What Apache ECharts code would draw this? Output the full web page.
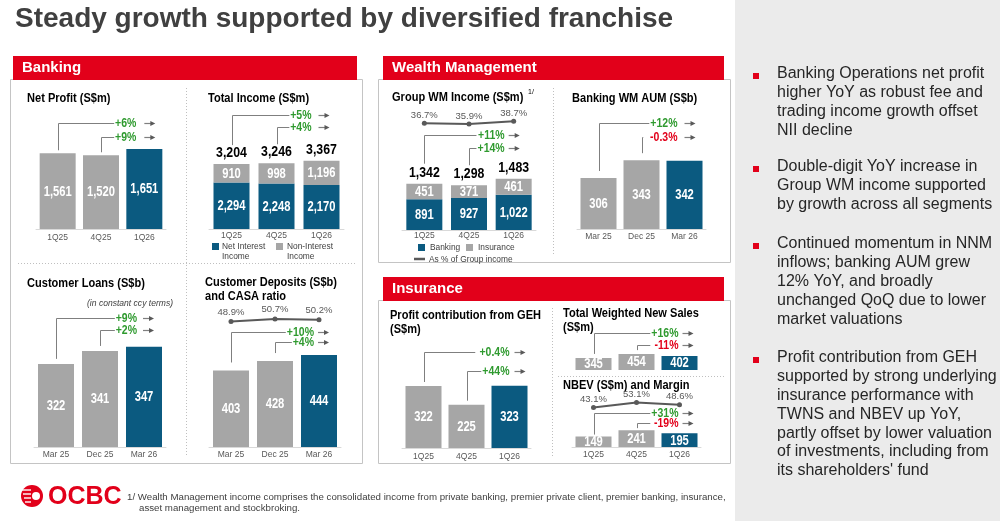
<!DOCTYPE html>
<html>
<head>
<meta charset="UTF-8">
<title>Steady growth supported by diversified franchise</title>
<script src="https://cdn.jsdelivr.net/npm/echarts@6/dist/echarts.min.js"></script>
<style>
  html, body { margin: 0; padding: 0; background: #fff; }
  #main { width: 1000px; height: 521px; }
</style>
</head>
<body>
<div id="main"></div>
<script>
// ---- data ----
var qCats = ['1Q25', '4Q25', '1Q26'];
var mCats = ['Mar 25', 'Dec 25', 'Mar 26'];

var netProfit = [1561, 1520, 1651];
var npGrowth = ['+6%', '+9%'];

var nii = [2294, 2248, 2170];
var nonNii = [910, 998, 1196];
var totalIncome = [3204, 3246, 3367];
var tiGrowth = ['+5%', '+4%'];

var loans = [322, 341, 347];
var loanGrowth = ['+9%', '+2%'];

var deposits = [403, 428, 444];
var casaRatio = [48.9, 50.7, 50.2];
var depGrowth = ['+10%', '+4%'];

var wmBanking = [891, 927, 1022];
var wmInsurance = [451, 371, 461];
var wmTotal = [1342, 1298, 1483];
var wmShare = [36.7, 35.9, 38.7];
var wmGrowth = ['+11%', '+14%'];

var wmAum = [306, 343, 342];
var aumGrowth = ['+12%', '-0.3%'];

var gehProfit = [322, 225, 323];
var gehGrowth = ['+0.4%', '+44%'];

var twns = [345, 454, 402];
var twnsGrowth = ['+16%', '-11%'];

var nbev = [149, 241, 195];
var nbevMargin = [43.1, 53.1, 48.6];
var nbevGrowth = ['+31%', '-19%'];

var bullets = [
  ['Banking Operations net profit', 'higher YoY as robust fee and', 'trading income growth offset', 'NII decline'],
  ['Double-digit YoY increase in', 'Group WM income supported', 'by growth across all segments'],
  ['Continued momentum in NNM', 'inflows; banking AUM grew', '12% YoY, and broadly', 'unchanged QoQ due to lower', 'market valuations'],
  ['Profit contribution from GEH', 'supported by strong underlying', 'insurance performance with', 'TWNS and NBEV up YoY,', 'partly offset by lower valuation', 'of investments, including from', 'its shareholders\' fund']
];

// ---- style ----
var RED = '#e2001a', BLUE = '#0b5a80', GREY = '#a6a6a6', GREEN = '#2f9a2f';
var LINE = '#7f7f7f', AXIS = '#595959', TXT = '#262626';
var SANS = "'Liberation Sans', Arial, sans-serif";

function fmt(v) { return Number(v).toLocaleString('en-US'); }

var chart = echarts.init(document.getElementById('main'));

var grids = [], xAxes = [], yAxes = [], series = [];
var labelSpecs = [], totalSpecs = [];

function addGrid(rect, cats, yMin, yMax, labelMargin) {
  var i = grids.length;
  grids.push({ left: rect[0], top: rect[1], width: rect[2], height: rect[3] });
  xAxes.push({
    gridIndex: i, type: 'category', data: cats,
    show: labelMargin !== null,
    axisTick: { show: false },
    axisLine: { lineStyle: { color: '#d9d9d9' } },
    axisLabel: { color: AXIS, fontSize: 8.5, margin: labelMargin || 0, fontFamily: SANS }
  });
  yAxes.push({ gridIndex: i, type: 'value', min: yMin, max: yMax, show: false, splitLine: { show: false } });
  return i;
}

function bars(g, values, colors, stack, base) {
  series.push({
    type: 'bar', xAxisIndex: g, yAxisIndex: g, barWidth: 36, stack: stack,
    data: values.map(function (v, k) { return { value: v, itemStyle: { color: colors[k] } }; }),
    silent: true
  });
  labelSpecs.push({ g: g, values: values, base: base, min: yAxes[g].min });
}

function totals(g, values) {
  totalSpecs.push({ g: g, values: values });
}

function ratioLine(g, values, dist) {
  series.push({
    type: 'line', xAxisIndex: g, yAxisIndex: g, data: values, silent: true,
    symbol: 'circle', symbolSize: 5,
    lineStyle: { color: '#595959', width: 2 }, itemStyle: { color: '#595959' },
    label: { show: true, position: 'top', distance: dist, color: AXIS, fontSize: 9.5, fontFamily: SANS,
      formatter: function (p) { return p.value.toFixed(1) + '%'; } }
  });
}

var tri = [GREY, GREY, BLUE];

// Banking
var gNP = addGrid([36, 132, 130, 97], qCats, 0, 2000, 4);
bars(gNP, netProfit, tri);

var gTI = addGrid([209, 148, 135, 81], qCats, 0, 4000, 2);
bars(gTI, nii, [BLUE, BLUE, BLUE], 'ti');
bars(gTI, nonNii, [GREY, GREY, GREY], 'ti', nii);
totals(gTI, totalIncome);

var gLoan = addGrid([34, 338, 132, 109], mCats, 200, 360, 3);
bars(gLoan, loans, tri);

var gDep = addGrid([209, 349, 132, 98], mCats, 200, 460, 3);
bars(gDep, deposits, tri);
var gCasa = addGrid([209, 316, 132, 8], mCats, 47, 53, null);
ratioLine(gCasa, casaRatio, 2);

// Wealth Management
var gWM = addGrid([402, 161, 134, 69], qCats, 0, 2000, 1);
bars(gWM, wmBanking, [BLUE, BLUE, BLUE], 'wm');
bars(gWM, wmInsurance, [GREY, GREY, GREY], 'wm', wmBanking);
totals(gWM, wmTotal);
var gShare = addGrid([402, 120, 134, 6], qCats, 34, 40, null);
ratioLine(gShare, wmShare, 0);

var gAum = addGrid([577, 152, 129, 77], mCats, 200, 360, 3);
bars(gAum, wmAum, tri);

// Insurance
var gGeh = addGrid([402, 371, 129, 77], qCats, 0, 400, 4);
bars(gGeh, gehProfit, tri);

var gTwns = addGrid([572, 349, 129, 21], qCats, 0, 600, null);
bars(gTwns, twns, tri);

var gNbev = addGrid([572, 426, 129, 21], qCats, 0, 300, 3);
bars(gNbev, nbev, tri);
var gMargin = addGrid([572, 401, 129, 8], qCats, 40, 56, null);
ratioLine(gMargin, nbevMargin, 1);

chart.setOption({
  animation: false,
  grid: grids, xAxis: xAxes, yAxis: yAxes, series: series
});

// ---- static page elements ----
function txt(x, y, s, font, fill, sx, extra) {
  var o = { type: 'text', x: x, y: y, silent: true, scaleX: sx || 1,
    style: { text: s, font: font, fill: fill || TXT, verticalAlign: 'middle', align: 'left' } };
  if (extra) for (var k in extra) o.style[k] = extra[k];
  return o;
}
function rect(x, y, w, h, style) {
  return { type: 'rect', silent: true, shape: { x: x, y: y, width: w, height: h }, style: style };
}
function dotted(x1, y1, x2, y2) {
  return { type: 'line', silent: true, shape: { x1: x1, y1: y1, x2: x2, y2: y2 },
    style: { stroke: '#bfbfbf', lineWidth: 1, lineDash: [1, 2] } };
}

var els = [];
els.push(rect(735, 0, 265, 521, { fill: '#ebebeb' }));
els.push(txt(15, 19, 'Steady growth supported by diversified franchise', 'bold 28px ' + SANS, '#404040'));

// panels
var HF = 'bold 15px ' + SANS;
els.push(rect(10.5, 79.5, 352, 384, { fill: null, stroke: '#c4c4c4', lineWidth: 1 }));
els.push(rect(13, 56, 344, 24, { fill: RED }));
els.push(txt(22, 68, 'Banking', HF, '#fff'));
els.push(dotted(186.5, 88, 186.5, 456));
els.push(dotted(18, 263.5, 356, 263.5));

els.push(rect(378.5, 79.5, 352, 183, { fill: null, stroke: '#c4c4c4', lineWidth: 1 }));
els.push(rect(383, 56, 341, 24, { fill: RED }));
els.push(txt(392, 68, 'Wealth Management', HF, '#fff'));
els.push(dotted(553.5, 88, 553.5, 256));

els.push(rect(378.5, 300.5, 352, 163, { fill: null, stroke: '#c4c4c4', lineWidth: 1 }));
els.push(rect(383, 277, 341, 24, { fill: RED }));
els.push(txt(392, 289, 'Insurance', HF, '#fff'));
els.push(dotted(552.5, 308, 552.5, 458));
els.push(dotted(558, 376.5, 726, 376.5));

// chart titles (narrow)
var TF = 'bold 13px ' + SANS, TS = 0.85;
els.push(txt(27, 98, 'Net Profit (S$m)', TF, '#000', TS));
els.push(txt(208, 98, 'Total Income (S$m)', TF, '#000', TS));
els.push(txt(27, 283, 'Customer Loans (S$b)', TF, '#000', TS));
els.push(txt(173, 303, '(in constant ccy terms)', 'italic 9.5px ' + SANS, '#404040', 0.9, { align: 'right' }));
els.push(txt(205, 282, 'Customer Deposits (S$b)', TF, '#000', TS));
els.push(txt(205, 296, 'and CASA ratio', TF, '#000', TS));
els.push(txt(392, 97, 'Group WM Income (S$m)', TF, '#000', TS));
els.push(txt(528, 92, '1/', '7px ' + SANS, '#000'));
els.push(txt(572, 98, 'Banking WM AUM (S$b)', TF, '#000', TS));
els.push(txt(390, 315, 'Profit contribution from GEH', TF, '#000', TS));
els.push(txt(390, 329, '(S$m)', TF, '#000', TS));
els.push(txt(563, 313, 'Total Weighted New Sales', TF, '#000', TS));
els.push(txt(563, 327, '(S$m)', TF, '#000', TS));
els.push(txt(563, 385, 'NBEV (S$m) and Margin', TF, '#000', TS));

// legends
var LF = '9.5px ' + SANS, LS = 0.88;
els.push(rect(212, 243, 7, 7, { fill: BLUE }));
els.push(txt(222, 246, 'Net Interest', LF, '#404040', LS));
els.push(txt(222, 256, 'Income', LF, '#404040', LS));
els.push(rect(276, 243, 7, 7, { fill: GREY }));
els.push(txt(287, 246, 'Non-Interest', LF, '#404040', LS));
els.push(txt(287, 256, 'Income', LF, '#404040', LS));

els.push(rect(418, 244, 7, 7, { fill: BLUE }));
els.push(txt(430, 247, 'Banking', LF, '#404040', LS));
els.push(rect(466, 244, 7, 7, { fill: GREY }));
els.push(txt(478, 247, 'Insurance', LF, '#404040', LS));
els.push({ type: 'line', silent: true, shape: { x1: 414, y1: 259, x2: 425, y2: 259 }, style: { stroke: '#595959', lineWidth: 2.5 } });
els.push(txt(429, 259, 'As % of Group income', LF, '#404040', LS));

// bullets
var bulletTops = [74, 167, 244, 358];
bullets.forEach(function (lines, i) {
  els.push(rect(753, bulletTops[i] - 1, 6, 6, { fill: RED }));
  els.push({ type: 'text', x: 777, y: bulletTops[i] - 9.5, silent: true,
    style: { text: lines.join('\n'), font: '16px ' + SANS, fill: TXT, lineHeight: 18.8, verticalAlign: 'top' } });
});

// footer logo + note
els.push({ type: 'circle', silent: true, shape: { cx: 32, cy: 496, r: 11 }, style: { fill: RED } });
[490, 494, 498, 502].forEach(function (y, k) {
  els.push({ type: 'line', silent: true, shape: { x1: 22 + k, y1: y, x2: 31, y2: y }, style: { stroke: '#fff', lineWidth: 1.4 } });
});
els.push({ type: 'circle', silent: true, shape: { cx: 36, cy: 496, r: 4 }, style: { fill: '#fff' } });
els.push(txt(48, 497, 'OCBC', 'bold 25px ' + SANS, RED));
els.push(txt(127, 497, '1/ Wealth Management income comprises the consolidated income from private banking, premier private client, premier banking, insurance,', '9.7px ' + SANS, '#404040'));
els.push(txt(139, 508, 'asset management and stockbroking.', '9.7px ' + SANS, '#404040'));

// ---- value labels placed through the chart's own scales ----
labelSpecs.forEach(function (s) {
  s.values.forEach(function (v, k) {
    var lo = s.base ? s.base[k] : s.min;
    var hi = s.base ? s.base[k] + v : v;
    var p = chart.convertToPixel({ gridIndex: s.g }, [k, (lo + hi) / 2]);
    var t = txt(p[0], p[1] + 0.5, fmt(v), 'bold 14px ' + SANS, '#fff', 0.8, { align: 'center' });
    t.z = 100;
    els.push(t);
  });
});
totalSpecs.forEach(function (s) {
  s.values.forEach(function (v, k) {
    var p = chart.convertToPixel({ gridIndex: s.g }, [k, v]);
    var t = txt(p[0], p[1] - 11, fmt(v), 'bold 14px ' + SANS, '#000', 0.88, { align: 'center' });
    t.z = 100;
    els.push(t);
  });
});

// ---- growth brackets ----
var brackets = [
  { g: gNP, tops: netProfit, levels: [123, 137], gap: 3, tx: -8, ax: 0, labels: npGrowth },
  { g: gTI, tops: totalIncome, levels: [115, 127], gap: 19, tx: -10, ax: -3, labels: tiGrowth },
  { g: gLoan, tops: loans, levels: [318, 330], gap: 5, tx: -7, ax: -1, labels: loanGrowth },
  { g: gDep, tops: deposits, levels: [332, 342], gap: 8, tx: -5, ax: -1, labels: depGrowth },
  { g: gWM, tops: wmTotal, levels: [135, 148], gap: 20, tx: -9, ax: -5, labels: wmGrowth },
  { g: gAum, tops: wmAum, levels: [123, 137], gap: 7, tx: -7, ax: 0, labels: aumGrowth },
  { g: gGeh, tops: gehProfit, levels: [352, 371], gap: 4, tx: 0, ax: 5, labels: gehGrowth },
  { g: gTwns, tops: twns, levels: [333, 345], gap: 4, tx: -1, ax: 3, labels: twnsGrowth },
  { g: gNbev, tops: nbev, levels: [413, 423], gap: 2, tx: -1, ax: 3, labels: nbevGrowth }
];
brackets.forEach(function (b) {
  var c3 = chart.convertToPixel({ gridIndex: b.g }, [2, 0])[0];
  [0, 1].forEach(function (k) {
    var p = chart.convertToPixel({ gridIndex: b.g }, [k, b.tops[k]]);
    var y = b.levels[k];
    var tr = c3 + b.tx;
    var s = b.labels[k];
    var w = s.length * 7.2 * 0.84;
    els.push({ type: 'polyline', silent: true, z: 100,
      shape: { points: [[Math.round(p[0]) + 0.5, p[1] - b.gap], [Math.round(p[0]) + 0.5, y + 0.5], [tr - w - 4, y + 0.5]] },
      style: { stroke: LINE, lineWidth: 1, fill: null } });
    els.push({ type: 'text', silent: true, z: 101, x: tr, y: y + 0.5, scaleX: 0.84,
      style: { text: s, font: 'bold 12.5px ' + SANS, fill: s.charAt(0) === '-' ? RED : GREEN,
        align: 'right', verticalAlign: 'middle' } });
    var a = c3 + b.ax;
    els.push({ type: 'line', silent: true, z: 100, shape: { x1: a, y1: y + 0.5, x2: a + 7, y2: y + 0.5 },
      style: { stroke: LINE, lineWidth: 1.2 } });
    els.push({ type: 'polygon', silent: true, z: 100, shape: { points: [[a + 6, y - 2], [a + 11, y + 0.5], [a + 6, y + 3]] },
      style: { fill: '#595959' } });
  });
});

chart.setOption({ graphic: { elements: els } });
</script>
</body>
</html>
